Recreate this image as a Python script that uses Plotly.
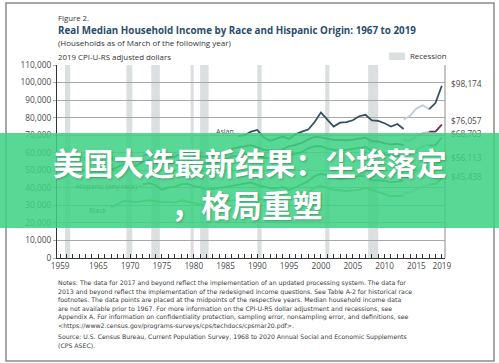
import plotly.graph_objects as go

# ---------------- data (thousands of 2019 dollars) ----------------
asian_years = list(range(1987, 2014))
asian_old = [69.5, 70.0, 72.0, 73.0, 68.6, 66.8, 68.0, 69.3, 67.8, 70.5, 72.0, 73.2, 77.5,
             83.0, 78.9, 74.9, 77.1, 77.5, 78.5, 80.8, 81.6, 78.4, 78.2, 76.8, 74.9, 76.4, 73.5]

white_years = list(range(1972, 2014))
white_old = [58.2, 59.5, 57.6, 56.3, 57.2, 57.6, 59.6, 59.9, 58.4, 57.8, 57.6, 58.1, 59.8,
             60.6, 62.2, 63.0, 63.6, 64.3, 63.0, 61.6, 61.4, 61.4, 62.0, 63.7, 64.5, 65.6,
             67.6, 69.0, 68.8, 68.0, 67.3, 67.3, 67.1, 67.5, 67.9, 68.6, 66.6, 66.4, 65.3,
             64.8, 65.0, 64.3]

all_years = list(range(1967, 2014))
all_old = [50.1, 51.9, 53.5, 53.0, 52.6, 54.9, 55.9, 54.2, 53.3, 54.0, 54.3, 56.3, 56.2,
           54.7, 54.1, 53.8, 53.8, 55.2, 56.2, 57.8, 58.4, 58.8, 59.8, 58.8, 57.1, 56.6,
           56.5, 57.1, 58.7, 59.4, 60.4, 62.5, 63.8, 63.7, 62.4, 61.7, 61.7, 61.6, 62.2,
           62.7, 63.3, 61.0, 60.7, 59.2, 58.3, 58.3, 57.5]

hisp_years = list(range(1972, 2014))
hisp_old = [42.0, 42.7, 41.6, 38.8, 40.2, 40.5, 42.0, 42.4, 40.9, 40.4, 38.9, 39.3, 40.0,
            40.4, 41.1, 41.7, 42.2, 43.0, 41.7, 40.9, 39.8, 39.6, 40.5, 38.6, 40.5, 42.0,
            43.8, 46.7, 48.0, 47.0, 45.9, 45.0, 45.6, 46.2, 46.8, 46.6, 44.2, 44.4, 43.6,
            43.2, 43.5, 44.0]

black_years = list(range(1967, 2014))
black_old = [29.0, 30.9, 32.5, 32.3, 31.8, 32.4, 32.9, 32.4, 31.8, 31.9, 31.6, 32.9, 32.1,
             31.2, 30.1, 29.7, 30.2, 31.2, 32.6, 32.8, 33.0, 33.4, 34.6, 33.8, 32.9, 32.1,
             32.4, 34.2, 35.1, 35.9, 37.4, 37.5, 40.2, 41.4, 39.9, 38.9, 38.6, 38.2, 38.5,
             38.8, 39.9, 38.6, 37.5, 36.4, 35.2, 35.5, 35.5]

redesign_years = [2013, 2014, 2015, 2016, 2017]
asian_redesign = [78.8, 81.0, 85.2, 87.0, 84.8]
white_redesign = [67.4, 66.9, 69.5, 71.2, 71.8]
all_redesign = [59.5, 58.7, 61.7, 63.7, 64.8]
hisp_redesign = [45.5, 46.4, 49.5, 51.4, 52.4]
black_redesign = [37.0, 37.3, 39.2, 41.0, 41.4]

update_years = [2017, 2018, 2019]
asian_update = [84.8, 88.3, 98.174]
white_update = [72.0, 72.0, 76.057]
all_update = [64.0, 64.3, 68.703]
hisp_update = [52.7, 52.4, 56.113]
black_update = [42.0, 42.2, 45.438]

series_names = ["Asian", "White, not Hispanic", "All races", "Hispanic (any race)", "Black"]
end_labels = ["$98,174", "$76,057", "$68,703", "$56,113", "$45,438"]

recessions = [(1960.25, 1961.08), (1969.92, 1970.83), (1973.83, 1975.17), (1980.0, 1980.5),
              (1981.5, 1982.83), (1990.5, 1991.17), (2001.17, 2001.83), (2007.92, 2009.5)]

tick_years = list(range(1959, 2020))
labeled_years = [1959, 1965, 1970, 1975, 1980, 1985, 1990, 1995, 2000, 2005, 2010, 2015, 2019]

notes_lines = [
    "Notes: The data for 2017 and beyond reflect the implementation of an updated processing system. The data for",
    "2013 and beyond reflect the implementation of the redesigned income questions. See Table A-2 for historical race",
    "footnotes. The data points are placed at the midpoints of the respective years. Median household income data",
    "are not available prior to 1967. For more information on the CPI-U-RS dollar adjustment and recessions, see",
    "Appendix A. For information on confidentiality protection, sampling error, nonsampling error, and definitions, see",
    "&lt;https://www2.census.gov/programs-surveys/cps/techdocs/cpsmar20.pdf&gt;.",
]
source_lines = [
    "Source: U.S. Census Bureau, Current Population Survey, 1968 to 2020 Annual Social and Economic Supplements",
    "(CPS ASEC).",
]

# ---------------- layout geometry ----------------
W, H = 499, 363
L, R, T, B = 57, 445, 65, 258  # plot area in px


def px(xp):
    return (xp - L) / (R - L)


def py(yp):
    return (B - yp) / (B - T)


FONT = "Open Sans"
GREY = "#4a4a4a"

series = [
    (asian_years, asian_old, asian_redesign, asian_update, "#35505e", "#c3c9cc"),
    (white_years, white_old, white_redesign, white_update, "#6a2c5a", "#c9b3c3"),
    (all_years, all_old, all_redesign, all_update, "#2d6b5b", "#a9c7bd"),
    (hisp_years, hisp_old, hisp_redesign, hisp_update, "#3f8f55", "#aed3b4"),
    (black_years, black_old, black_redesign, black_update, "#7bb661", "#c6e0b8"),
]

fig = go.Figure()
for (yrs, old, red, upd, dark, light) in series:
    fig.add_trace(go.Scatter(x=[y + 0.5 for y in yrs], y=[v * 1000 for v in old], mode="lines",
                             line=dict(color=dark, width=1.8), showlegend=False, hoverinfo="skip"))
    fig.add_trace(go.Scatter(x=[y + 0.5 for y in redesign_years], y=[v * 1000 for v in red], mode="lines",
                             line=dict(color=light, width=1.8), showlegend=False, hoverinfo="skip"))
    fig.add_trace(go.Scatter(x=[y + 0.5 for y in update_years], y=[v * 1000 for v in upd], mode="lines",
                             line=dict(color=dark, width=1.8), showlegend=False, hoverinfo="skip"))

shapes = []
for a, b in recessions:
    shapes.append(dict(type="rect", xref="x", yref="paper", x0=a, x1=b, y0=0, y1=1,
                       fillcolor="#dcdfdf", line=dict(width=0), layer="below"))
shapes.append(dict(type="line", xref="paper", yref="paper", x0=1, x1=1, y0=0, y1=1,
                   line=dict(color="#8c8c8c", width=1)))
shapes.append(dict(type="rect", xref="paper", yref="paper", x0=px(6), x1=px(494), y0=py(361), y1=py(3),
                   line=dict(color="#8a8a8a", width=1.5), fillcolor="rgba(0,0,0,0)", layer="below"))
shapes.append(dict(type="rect", xref="paper", yref="paper", x0=px(389), x1=px(405), y0=py(60), y1=py(52.5),
                   fillcolor="#dcdfdf", line=dict(width=0)))
shapes.append(dict(type="line", xref="paper", yref="paper", x0=px(139), x1=px(143), y0=py(186), y1=py(186),
                   line=dict(color="#3f8f55", width=1)))

ann = []
label_pos = [(235, 131), (138, 158), (106, 170), (138, 186), (108, 210.5)]
for name, (xx, yy) in zip(series_names, label_pos):
    ann.append(dict(x=px(xx), y=py(yy), xref="paper", yref="paper", text=name, showarrow=False,
                    xanchor="right", yanchor="middle", borderpad=0,
                    font=dict(family=FONT, size=7, color=GREY)))
end_vals = [asian_update[-1], white_update[-1], all_update[-1], hisp_update[-1], black_update[-1]]
end_shift = [2, 4.5, 3.5, 2.5, 1.5]
for lab, v, sh in zip(end_labels, end_vals, end_shift):
    ann.append(dict(x=px(450), y=v * 1000, xref="paper", yref="y", text=lab, showarrow=False,
                    xanchor="left", yanchor="middle", yshift=sh, borderpad=0,
                    font=dict(family=FONT, size=8.3, color=GREY)))

ann.append(dict(x=px(57), y=py(18.3), xref="paper", yref="paper", text="Figure 2.", showarrow=False,
                xanchor="left", yanchor="middle", borderpad=0,
                font=dict(family=FONT, size=7.8, color="#333333")))
ann.append(dict(x=px(57), y=py(30.2), xref="paper", yref="paper",
                text="<b>Real Median Household Income by Race and Hispanic Origin: 1967 to 2019</b>",
                showarrow=False, xanchor="left", yanchor="middle", borderpad=0,
                font=dict(family=FONT, size=9.8, color="#2a4d6e")))
ann.append(dict(x=px(57), y=py(42.2), xref="paper", yref="paper",
                text="(Households as of March of the following year)", showarrow=False,
                xanchor="left", yanchor="middle", borderpad=0,
                font=dict(family=FONT, size=8.0, color="#333333")))
ann.append(dict(x=px(57), y=py(57.3), xref="paper", yref="paper",
                text="2019 CPI-U-RS adjusted dollars", showarrow=False,
                xanchor="left", yanchor="middle", borderpad=0,
                font=dict(family=FONT, size=7.9, color="#333333")))
ann.append(dict(x=px(409), y=py(56.3), xref="paper", yref="paper", text="Recession", showarrow=False,
                xanchor="left", yanchor="middle", borderpad=0,
                font=dict(family=FONT, size=7.9, color="#333333")))

NFONT = dict(family="DejaVu Sans", size=6.2, color="#3a3a3a")
for i, line in enumerate(notes_lines):
    ann.append(dict(x=px(57), y=py(283 + 8.6 * i), xref="paper", yref="paper", text=line,
                    showarrow=False, xanchor="left", yanchor="middle", borderpad=0, font=NFONT))
for i, line in enumerate(source_lines):
    ann.append(dict(x=px(57), y=py(336.5 + 8.6 * i), xref="paper", yref="paper", text=line,
                    showarrow=False, xanchor="left", yanchor="middle", borderpad=0, font=NFONT))

# banner background (semi-transparent) drawn over chart
ann.append(dict(x=px(249.5), y=py(180.5), xref="paper", yref="paper", text=" ", showarrow=False,
                xanchor="center", yanchor="middle", width=W + 4, height=95, borderpad=0, borderwidth=0,
                bgcolor="rgba(62,208,130,0.86)", font=dict(size=2)))
BFONT = dict(family="Noto Sans CJK SC", size=30.3, color="white", weight="bold",
             shadow="1px 1px 2px rgba(0,0,0,0.25)")
ann.append(dict(x=px(250), y=py(161.5), xref="paper", yref="paper", text="美国大选最新结果：尘埃落定",
                showarrow=False, xanchor="center", yanchor="middle", font=BFONT))
ann.append(dict(x=px(246.5), y=py(203.5), xref="paper", yref="paper", text="，格局重塑",
                showarrow=False, xanchor="center", yanchor="middle", font=BFONT))

fig.update_layout(
    width=W, height=H,
    margin=dict(l=L, r=W - R, t=T, b=H - B, pad=0),
    paper_bgcolor="white", plot_bgcolor="white",
    shapes=shapes, annotations=ann,
    font=dict(family=FONT, color=GREY),
    xaxis=dict(range=[1959, 2020], tickvals=[y + 0.5 for y in tick_years],
               ticktext=[str(y) if y in labeled_years else "" for y in tick_years],
               ticks="inside", ticklen=4, tickwidth=1, tickcolor="#333333",
               showline=True, linecolor="#333333", linewidth=1.2, showgrid=False, zeroline=False,
               tickfont=dict(family=FONT, size=8.2, color=GREY), fixedrange=True),
    yaxis=dict(range=[0, 110000], dtick=10000, tickformat=",", showgrid=True, gridcolor="#a9a9a9",
               gridwidth=1, showline=True, linecolor="#333333", linewidth=1.2, zeroline=False,
               ticks="outside", ticklen=3, tickcolor="#a9a9a9",
               tickfont=dict(family=FONT, size=8.3, color=GREY), fixedrange=True),
)

fig.write_html("out.html", config={"displayModeBar": False},
               post_script="document.body.style.margin='0';document.body.style.padding='0';")
